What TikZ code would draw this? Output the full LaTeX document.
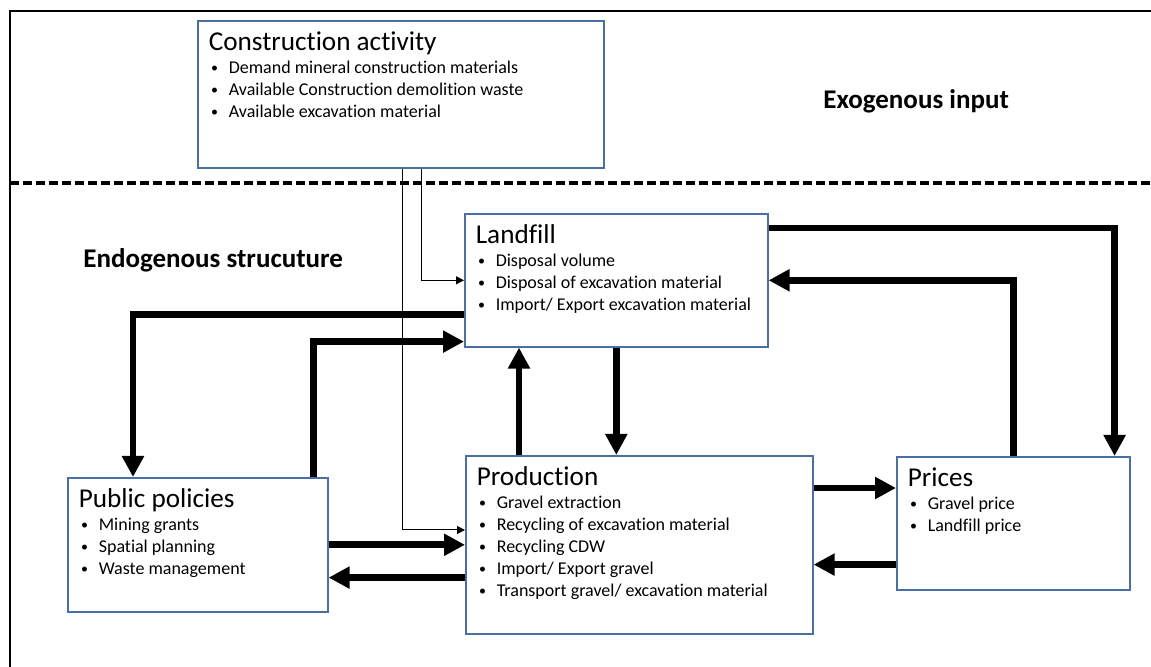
\documentclass[tikz,border=0pt]{standalone}
\usepackage{fontspec}
\setmainfont[Ligatures=NoCommon]{Carlito}
\usepackage{tikz}
\usetikzlibrary{arrows.meta}
\definecolor{boxblue}{HTML}{4A6FA5}
\tikzstyle{block}=[draw=boxblue,line width=0.8pt,anchor=north west,inner xsep=5.5pt,inner ysep=0pt,fill=white]
\tikzstyle{flow}=[draw,line width=3.3pt,-{Triangle[length=10.5pt,width=10.5pt]}]
\tikzstyle{feed}=[draw,line width=0.5pt,-{Triangle[length=4pt,width=4pt]}]
\tikzstyle{heading}=[anchor=base west,inner sep=0pt,font=\fontsize{13.5}{15}\selectfont\bfseries]
% box text: width, height, title, bullet items
\newcommand{\blocktext}[4]{\parbox[t][#2][t]{#1}{\rule{0pt}{15pt}\fontsize{13.6}{15}\selectfont #3\par
    \vspace{0.5pt}\fontsize{9}{11}\selectfont #4}}
\newcommand{\itm}[1]{\hspace*{1.2pt}\makebox[8.8pt][l]{\raisebox{0.7pt}{\fontsize{7}{7}\selectfont\textbullet}}#1\par}

\begin{document}
\begin{tikzpicture}[x=0.5pt,y=-0.5pt]
    \useasboundingbox (0,0) rectangle (1151,667);
    % frame and split between exogenous and endogenous part
    \draw[line width=1pt] (10,667) -- (10,11) -- (1151,11);
    \draw[line width=1.6pt,dash pattern=on 4.5pt off 2pt] (10,183) -- (1151,183);
    \node[heading] (exo) at (823,109) {Exogenous input};
    \node[heading] (endo) at (83,268) {Endogenous strucuture};
    % First the boxes
    \node[block] (constr) at (197,20) {\blocktext{192pt}{73.5pt}{Construction activity}{%
        \itm{Demand mineral construction materials}
        \itm{Available Construction demolition waste}
        \itm{Available excavation material}}};
    \node[block] (landfill) at (464,213) {\blocktext{140.5pt}{66.5pt}{Landfill}{%
        \itm{Disposal volume}
        \itm{Disposal of excavation material}
        \itm{Import/ Export excavation material}}};
    \node[block] (prod) at (465,455) {\blocktext{162.5pt}{89pt}{Production}{%
        \itm{Gravel extraction}
        \itm{Recycling of excavation material}
        \itm{Recycling CDW}
        \itm{Import/ Export gravel}
        \itm{Transport gravel/ excavation material}}};
    \node[block] (policy) at (67,477) {\blocktext{119pt}{67pt}{Public policies}{%
        \itm{Mining grants}
        \itm{Spatial planning}
        \itm{Waste management}}};
    \node[block] (prices) at (896,456) {\blocktext{105.5pt}{66.5pt}{Prices}{%
        \itm{Gravel price}
        \itm{Landfill price}}};
    % Helper points on the box borders
    \coordinate (c1) at ([yshift=-37.5pt]prod.north west);
    \coordinate (c2) at ([yshift=17.5pt]policy.south east);
    \coordinate (c3) at ([yshift=-16.5pt]prod.north east);
    \coordinate (c4) at ([yshift=13pt]prices.south west);
    \coordinate (c5) at ([xshift=27pt]prod.north west);
    % Exogenous input
    \draw[feed] ([xshift=102.5pt]constr.south west) |- (c1);
    \draw[feed] ([xshift=112pt]constr.south west) |- (landfill.west);
    % Feedbacks
    \draw[flow] ([yshift=-7.5pt]landfill.north east) -| ([xshift=-8pt]prices.north east);
    \draw[flow] (prices.north) |- (landfill.east);
    \draw[flow] ([yshift=16.5pt]landfill.south west) -| ([xshift=33pt]policy.north west);
    \draw[flow] ([xshift=-7.5pt]policy.north east) |- ([yshift=3pt]landfill.south west);
    \draw[flow] (c5) -- (c5 |- landfill.south);
    \draw[flow] (landfill.south) -- (landfill.south |- prod.north);
    \draw[flow] (c3) -- (prices.west |- c3);
    \draw[flow] (c4) -- (prod.east |- c4);
    \draw[flow] (policy.east) -- (prod.west |- policy.east);
    \draw[flow] (prod.west |- c2) -- (c2);
\end{tikzpicture}
\end{document}
